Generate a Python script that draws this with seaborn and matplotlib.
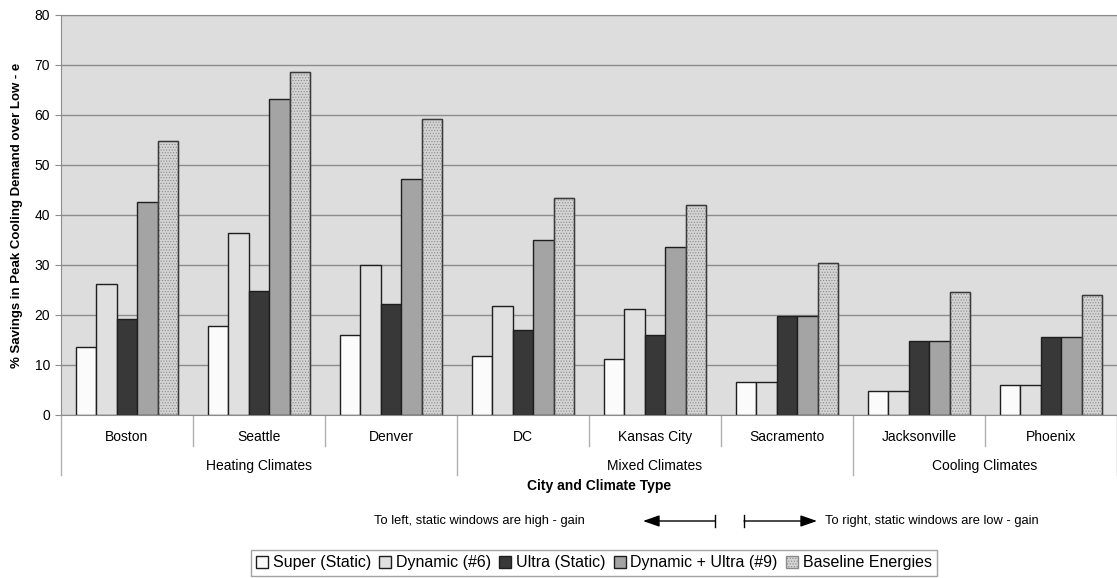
import pandas as pd
import seaborn as sns
import matplotlib.pyplot as plt
from matplotlib.patches import Rectangle

cities = ["Boston", "Seattle", "Denver", "DC", "Kansas City", "Sacramento", "Jacksonville", "Phoenix"]
city_climate = ["Heating Climates"] * 3 + ["Mixed Climates"] * 3 + ["Cooling Climates"] * 2
series = ["Super (Static)", "Dynamic (#6)", "Ultra (Static)", "Dynamic + Ultra (#9)", "Baseline Energies"]

super_static = [13.7, 17.9, 16.0, 11.9, 11.3, 6.6, 4.9, 6.0]
dynamic6 = [26.2, 36.5, 30.0, 21.8, 21.2, 6.6, 4.9, 6.0]
ultra_static = [19.2, 24.9, 22.2, 17.0, 16.1, 19.8, 14.9, 15.7]
dyn_ultra9 = [42.6, 63.2, 47.2, 35.0, 33.7, 19.8, 14.9, 15.7]
baseline = [54.8, 68.6, 59.2, 43.4, 42.0, 30.4, 24.7, 24.1]

colors = ["#fbfbfb", "#e0e0e0", "#383838", "#a4a4a4", "#d4d4d4"]

rows = []
for name, vals in zip(series, [super_static, dynamic6, ultra_static, dyn_ultra9, baseline]):
    for c, v in zip(cities, vals):
        rows.append({"city": c, "series": name, "value": v})
df = pd.DataFrame(rows)

plt.rcParams["font.family"] = ["Liberation Sans", "DejaVu Sans"]
plt.rcParams["hatch.linewidth"] = 0.5

fig = plt.figure(figsize=(11.17, 5.78), dpi=100)
ax = fig.add_axes([61 / 1117, 1 - 415 / 578, 1056 / 1117, 400 / 578])
ax.set_facecolor("#dddddd")

sns.barplot(data=df, x="city", y="value", hue="series", order=cities, hue_order=series,
            palette=colors, edgecolor="#1e1e1e", linewidth=1, width=0.78, ax=ax, legend=False)

# stippled baseline bars
for p in ax.containers[4]:
    p.set_hatch("......")
    p.set_edgecolor("#8a8a8a")
    ax.add_patch(Rectangle((p.get_x(), p.get_y()), p.get_width(), p.get_height(),
                           fill=False, edgecolor="#3a3a3a", linewidth=1, zorder=p.get_zorder() + 0.1))

ax.set_ylim(0, 80)
ax.set_xlim(-0.5, len(cities) - 0.5)
ax.set_yticks(range(0, 81, 10))
ax.yaxis.grid(True, color="#8c8c8c", linewidth=1)
ax.set_axisbelow(True)
for s in ["left", "top", "bottom"]:
    ax.spines[s].set_color("#8c8c8c")
ax.spines["right"].set_visible(False)
ax.tick_params(axis="y", length=4, color="#8c8c8c", labelsize=10, pad=4)
ax.tick_params(axis="x", length=0, labelsize=10, pad=11)
ax.set_xlabel("")
ax.set_ylabel("% Savings in Peak Cooling Demand over Low - e", fontsize=9.5, fontweight="bold", labelpad=8)

# hierarchical category separators
trans = ax.get_xaxis_transform()
for i in range(len(cities) + 1):
    x = i - 0.5
    major = i == 0 or i == len(cities) or city_climate[i] != city_climate[i - 1]
    y1 = -60 / 400 if major else -31 / 400
    ax.plot([x, x], [0, y1], transform=trans, color="#b0b0b0", lw=1, clip_on=False)

climates = list(dict.fromkeys(city_climate))
for cl in climates:
    idx = [i for i, c in enumerate(city_climate) if c == cl]
    ax.text((idx[0] + idx[-1]) / 2, -51 / 400, cl, transform=trans, ha="center", va="center", fontsize=10)

fig.text(599 / 1117, 1 - 486 / 578, "City and Climate Type", ha="center", va="center",
         fontsize=10, fontweight="bold")

# direction notes
ya = 1 - 521 / 578
fig.text(585 / 1117, ya, "To left, static windows are high - gain", ha="right", va="center", fontsize=9.3)
fig.text(825 / 1117, ya, "To right, static windows are low - gain", ha="left", va="center", fontsize=9.3)
for x0, x1 in [(715, 643), (744, 817)]:
    fig.add_artist(plt.Line2D([x0 / 1117, x0 / 1117], [ya - 6 / 578, ya + 6 / 578], color="black", lw=1))
    ax.annotate("", xy=(x1 / 1117, ya), xytext=(x0 / 1117, ya), xycoords="figure fraction",
                textcoords="figure fraction",
                arrowprops=dict(arrowstyle="-|>,head_length=1.0,head_width=0.35", color="black", lw=1,
                                shrinkA=0, shrinkB=0))

fig.legend(ax.containers, series, loc="center", bbox_to_anchor=(594 / 1117, 1 - 563 / 578), ncol=5,
           fontsize=11.5, frameon=True, fancybox=False, edgecolor="#8c8c8c", handlelength=0.75,
           handleheight=0.75, handletextpad=0.3, columnspacing=0.5, borderpad=0.35, borderaxespad=0)

fig.savefig("out.png", dpi=100)
